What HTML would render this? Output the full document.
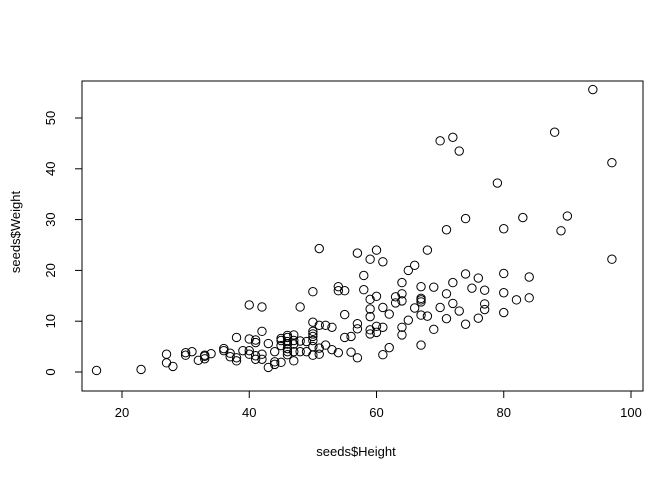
<!DOCTYPE html>
<html><head><meta charset="utf-8"><style>body{margin:0;background:#fff}svg{display:block;font-family:"Liberation Sans",Arial,sans-serif}</style></head>
<body>
<svg id="chart" width="672" height="480"></svg>
<script>
const heights=[16,23,27,27,28,30,30,31,32,33,33,33,34,36,36,37,37,38,38,38,39,40,40,40,40,41,41,41,41,42,42,42,42,43,43,44,44,44,45,45,45,45,46,46,46,46,46,46,46,47,47,47,47,47,48,48,48,49,49,50,50,50,50,50,50,50,50,51,51,51,51,52,52,53,53,54,54,54,55,55,55,56,56,57,57,57,57,58,58,59,59,59,59,59,59,60,60,60,60,61,61,61,61,62,62,63,63,64,64,64,64,64,65,65,66,66,67,67,67,67,67,67,68,68,69,69,70,70,71,71,71,72,72,72,73,73,74,74,74,75,76,76,77,77,77,79,80,80,80,80,82,83,84,84,88,89,90,94,97,97];
const weights=[0.3,0.5,3.5,1.8,1.1,3.3,3.8,4,2.3,2.6,3.1,3.3,3.6,4.2,4.6,3.7,3.0,2.2,2.8,6.8,4.2,3.5,4.2,6.5,13.2,2.5,3.2,5.8,6.3,3.5,8,12.8,2.5,5.6,0.9,1.5,2,4,1.9,5.2,6.2,6.6,3.4,4.0,4.6,5.5,6.0,7.2,6.8,5.5,6.2,7.3,2.2,4,4,6.1,12.8,4,6,3.3,5,6.2,7,7.5,8,9.8,15.8,9.2,24.3,3.5,4.7,5.3,9.2,8.8,4.4,16.8,16,3.8,6.8,11.3,16,3.9,7,23.4,9.5,8.5,2.8,19,16.2,22.2,14.3,12.4,10.9,8.3,7.5,24,14.9,9,7.8,21.7,12.7,8.8,3.4,11.4,4.8,13.6,14.8,14,17.6,15.4,8.8,7.3,20,10.2,21,12.6,16.8,14.5,14.2,13.8,5.3,11.2,24,11,16.7,8.4,45.5,12.7,28,15.4,10.5,46.2,17.6,13.5,43.5,12,30.2,19.3,9.4,16.5,18.5,10.6,16.1,13.4,12.3,37.2,28.2,19.4,15.6,11.7,14.2,30.4,18.7,14.6,47.2,27.8,30.7,55.6,41.2,22.2];
const xTicks=[20,40,60,80,100];
const yTicks=[0,10,20,30,40,50];
const NS="http://www.w3.org/2000/svg",svg=document.getElementById('chart');
const X=v=>122+(v-20)*6.3625, Y=v=>372-v*5.08;
function mk(t,a,p){const e=document.createElementNS(NS,t);for(const k in a)e.setAttribute(k,a[k]);(p||svg).appendChild(e);return e;}
const box=mk('rect',{x:82,y:81,width:561,height:310,fill:'none',stroke:'#000'});


const xa=mk('g',{});


mk('line',{x1:X(20),x2:X(100),y1:391,y2:391,stroke:'#000'},xa);
xTicks.forEach(t=>{mk('line',{x1:X(t),x2:X(t),y1:391,y2:398,stroke:'#000'},xa);
const l=mk('text',{x:X(t),y:417,'text-anchor':'middle','font-size':13},xa);l.textContent=t;

});
const ya=mk('g',{});


mk('line',{x1:82,x2:82,y1:Y(0),y2:Y(50),stroke:'#000'},ya);
yTicks.forEach(t=>{mk('line',{x1:75,x2:82,y1:Y(t),y2:Y(t),stroke:'#000'},ya);
const l=mk('text',{x:0,y:0,'text-anchor':'middle','font-size':13,transform:`translate(55,${Y(t)}) rotate(-90)`},ya);l.textContent=t;

});
const xt=mk('text',{x:356,y:456,'text-anchor':'middle','font-size':13});xt.textContent='seeds$Height';


const yt=mk('text',{x:0,y:0,'text-anchor':'middle','font-size':13,transform:'translate(20,232) rotate(-90)'});yt.textContent='seeds$Weight';


const pts=mk('g',{});


heights.forEach((h,i)=>{const c=mk('circle',{cx:X(h),cy:Y(weights[i]),r:4.2,fill:'none',stroke:'#000','stroke-width':1},pts);

});
</script>
</body></html>
